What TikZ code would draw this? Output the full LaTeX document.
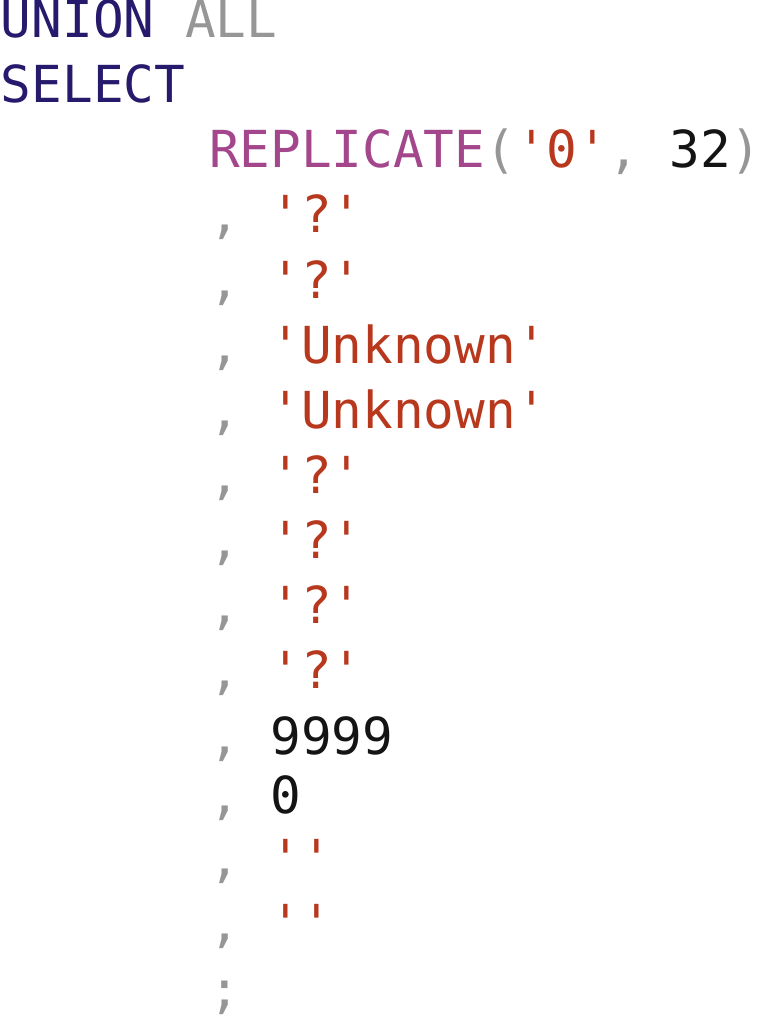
\documentclass[tikz,border=0pt]{standalone}
\usepackage{fontspec}
\setmonofont{DejaVu Sans Mono}
\definecolor{kwblue}{RGB}{38,26,108}
\definecolor{fngray}{RGB}{150,150,150}
\definecolor{fnpink}{RGB}{163,70,140}
\definecolor{strred}{RGB}{184,56,30}
\definecolor{numblack}{RGB}{20,20,20}
\newcommand{\kw}[1]{\textcolor{kwblue}{#1}}
\newcommand{\pn}[1]{\textcolor{fngray}{#1}}
\newcommand{\str}[1]{\textcolor{strred}{#1}}
\newcommand{\num}[1]{\textcolor{numblack}{#1}}
\begin{document}
\begin{tikzpicture}[x=1pt,y=-1pt,
    code/.style={anchor=base west,inner sep=0pt,outer sep=0pt,
        font=\ttfamily\fontsize{51}{65}\selectfont}]
                \useasboundingbox (0,0) rectangle (760,1024);
                \node[code] (union) at (1,38) {\kw{UNION} \pn{ALL}};
                \node[code] (select) at (1,103) {\kw{SELECT}};
                \node[code] (repl) at (209,168) {\textcolor{fnpink}{REPLICATE}\pn{(}\str{'0'}\pn{,} \num{32}\pn{)}};
                \node[code] (a1) at (209,233) {\pn{,} \str{'?'}};
                \node[code] (a2) at (209,298) {\pn{,} \str{'?'}};
                \node[code] (a3) at (209,363) {\pn{,} \str{'Unknown'}};
                \node[code] (a4) at (209,428) {\pn{,} \str{'Unknown'}};
                \node[code] (a5) at (209,493) {\pn{,} \str{'?'}};
                \node[code] (a6) at (209,558) {\pn{,} \str{'?'}};
                \node[code] (a7) at (209,623) {\pn{,} \str{'?'}};
                \node[code] (a8) at (209,688) {\pn{,} \str{'?'}};
                \node[code] (a9) at (209,754) {\pn{,} \num{9999}};
                \node[code] (a10) at (209,813) {\pn{,} \num{0}};
                \node[code] (a11) at (209,876) {\pn{,} \str{''}};
                \node[code] (a12) at (209,941) {\pn{,} \str{''}};
                \node[code] (semi) at (209,1007) {\pn{;}};
\end{tikzpicture}
\end{document}
